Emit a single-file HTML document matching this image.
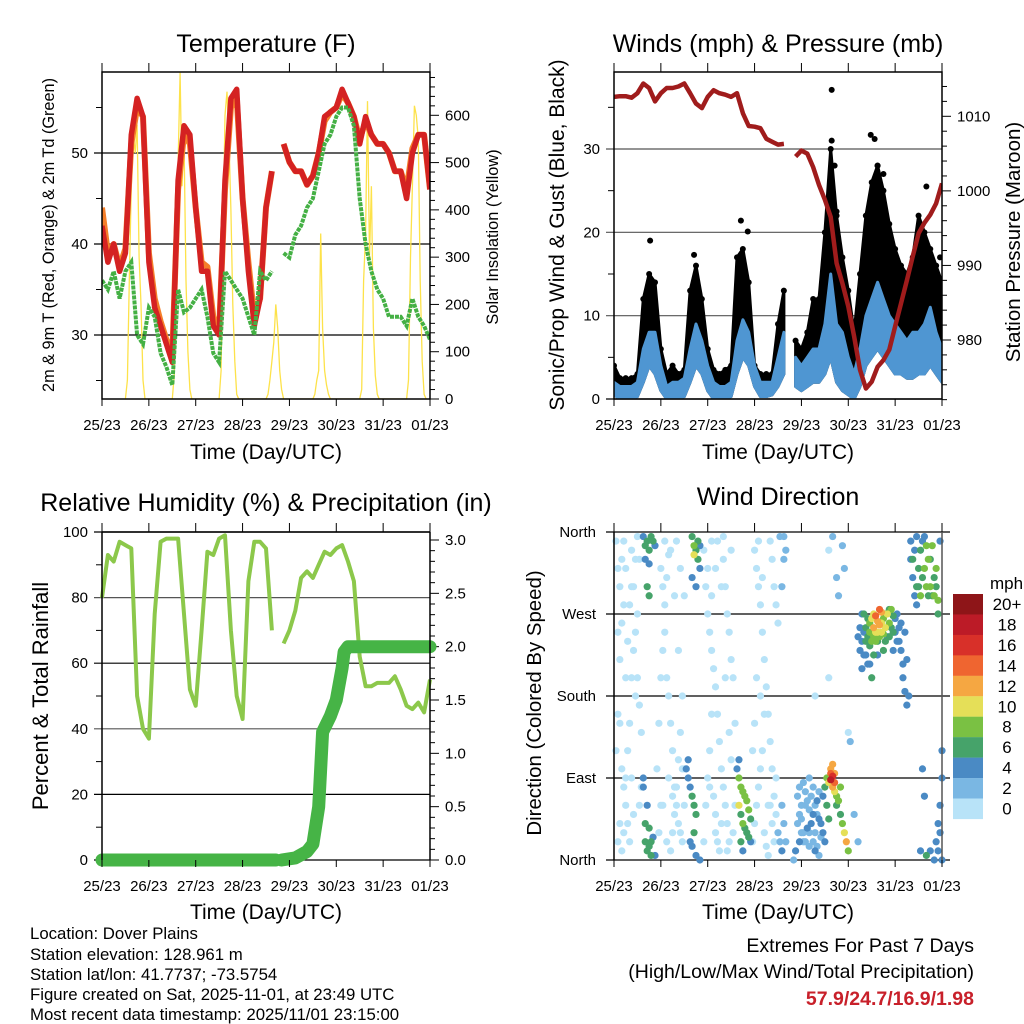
<!DOCTYPE html>
<html><head><meta charset="utf-8"><style>
body{margin:0;background:#fff}
svg{display:block;font-family:"Liberation Sans",sans-serif}
</style></head><body>
<svg id="s" width="1024" height="1024" viewBox="0 0 1024 1024">
<g id="g"></g>
<g font-size="25" text-anchor="middle">
<text x="266" y="52">Temperature (F)</text>
<text x="778" y="52">Winds (mph) &amp; Pressure (mb)</text>
<text x="266" y="511">Relative Humidity (%) &amp; Precipitation (in)</text>
<text x="778" y="505">Wind Direction</text>
</g>
<g font-size="21" text-anchor="middle">
<text x="266" y="459">Time (Day/UTC)</text>
<text x="778" y="459">Time (Day/UTC)</text>
<text x="266" y="919">Time (Day/UTC)</text>
<text x="778" y="919">Time (Day/UTC)</text>
</g>
<text transform="translate(54,235) rotate(-90)" font-size="16.3" text-anchor="middle">2m &amp; 9m T (Red, Orange) &amp; 2m Td (Green)</text>
<text transform="translate(498,237) rotate(-90)" font-size="16.4" text-anchor="middle">Solar Insolation (Yellow)</text>
<text transform="translate(564,235) rotate(-90)" font-size="21" text-anchor="middle">Sonic/Prop Wind &amp; Gust (Blue, Black)</text>
<text transform="translate(1020,242) rotate(-90)" font-size="20.5" text-anchor="middle">Station Pressure (Maroon)</text>
<text transform="translate(48,696) rotate(-90)" font-size="22" text-anchor="middle">Percent &amp; Total Rainfall</text>
<text transform="translate(541,703) rotate(-90)" font-size="20.4" text-anchor="middle">Direction (Colored By Speed)</text>
<g font-size="16.8">
<text x="30" y="939">Location: Dover Plains</text>
<text x="30" y="960">Station elevation: 128.961 m</text>
<text x="30" y="980">Station lat/lon: 41.7737; -73.5754</text>
<text x="30" y="1000">Figure created on Sat, 2025-11-01, at 23:49 UTC</text>
<text x="30" y="1020">Most recent data timestamp: 2025/11/01 23:15:00</text>
</g>
<g font-size="19.5" text-anchor="end">
<text x="974" y="952">Extremes For Past 7 Days</text>
<text x="974" y="978">(High/Low/Max Wind/Total Precipitation)</text>
<text x="974" y="1005" fill="#c8202a" font-weight="bold">57.9/24.7/16.9/1.98</text>
</g>
</svg>
<script>
var dayLabels=["25/23","26/23","27/23","28/23","29/23","30/23","31/23","01/23"];
var tHours=[0,3,6,9,12,15,18,21,24,27,30,33,36,39,42,45,48,51,54,57,60,63,66,69,72,75,78,81,84,87,90,93,96,99,102,105,108,111,114,117,120,123,126,129,132,135,138,141,144,147,150,153,156,159,162,165,168];
var tempRed=[42,38,40,37,39,52,56,54,38,33,31,29,27,47,53,52,44,37,37,31,30,47,56,57,45,37,31,34,44,48,null,51,49,48,48,46.5,47.5,50,54,54.5,55,57,55.5,54,51,54,52,51,51,50,48,48,45,50,52,52,46];
var tempOrange=[44,39,40,37.5,39.5,51,55,54,39,34,31.5,29.5,28,46,52,51,44,38,37.5,32,30.5,46,55,56,45,38,32,34,44,48,null,51,49,48,48,46.5,47.5,50,53.5,54.5,55,56.5,55.5,54,51.5,53.5,52,51,51,50,48,48,46,50.5,52,52,46];
var dewGreen=[36,35,37,34,37,38,30,29,33,32,28,26.5,24.5,35,32.5,33,34,35,32,28,27,37,36,35,34,32,30,37,36,37,null,39,38.5,41,42,44,45,48,51,52,54,55,55,53,45,40,37,35,34,32,32,32,31,34,32,31,29.5];
var solarDays=[
[0,40,250,450,560,520,580,300,200,40,0],
[0,50,300,500,690,450,550,250,100,20,0],
[0,60,350,600,650,550,400,200,80,10,0],
[0,10,40,80,120,200,150,60,20,0,0],
[0,10,40,60,350,150,60,30,10,0,0],
[0,20,250,350,630,300,450,150,50,10,0],
[0,40,300,450,620,600,550,250,80,10,0]];
var pressure=[1012.6,1012.7,1012.7,1012.5,1013.1,1014.4,1013.8,1012,1013.1,1013.8,1013.8,1014,1014.4,1013.1,1011.7,1011.1,1012.6,1013.5,1013.1,1012.9,1012.6,1013.1,1010.4,1008.7,1008.6,1008.4,1007,1006.6,1006.2,1006.3,null,1004.6,1005.4,1005,1003.2,1000.8,998.8,996.5,990.3,987.6,984.5,980.5,976,973.5,974.4,976.4,977.3,978.7,981.8,984.9,988,991.2,994.3,995.7,996.8,998.3,1001];
var windHigh=[2,1.5,1.5,1.5,2,6,8,8,4,1.5,2,2,2.5,6,9,7,4,2,1.5,1.5,2,7,9.5,8,4,2,2,2,5,8,null,5,4,5,6,6,9,15,9,8,5,3,6,10,12,14,12,10,9,8,7,8,8,9,11,8,6];
var windLow=[0.5,0,0,0,0.3,2,4,3,1,0,0,0,0.3,2,4,3,1,0,0,0,0.3,3,5,4,1.5,0.3,0.3,0.5,1.5,3,null,1.5,1,1.5,2,2,3,5,2,1,0.5,0,1.5,4,5,6,5,4,3,3,2.5,2.5,3,3,4,3,2];
var gust=[4,2.5,2.5,2.5,3,12,15,14,6,3,4,3,3.5,13,16,12,6,3.5,3,3.5,4,17,18,14,4,3,3,3,9,13,null,7,6,8,12,12,20,30,22,17,13,8,15,22,26,28,25,21,18,16,15,17,22,20,18,16,14];
var gustOutliers=[[18.5,19],[41,17.3],[65,21.4],[68.5,20.1],[111.5,37.1],[111.5,31],[113,28],[114,22.5],[131.5,31.7],[133.5,31.2],[135,28],[138,27],[160,25.5],[167,17]];
var rh=[80,93,91,97,96,95,50,40,37,75,97,98,98,98,75,52,47,70,94,93,98,99,70,50,43,85,97,97,95,70,null,66,70,76,86,88,86,90,94,93,95,96,91,85,62,53,53,54,54,54,56,52,47,46,48,45,55];
var precipHours=[0,89,null,92,99,105,108,111,113,117,120,123,124,126,168];
var precipVals=[0,0,null,0,0.02,0.08,0.15,0.5,1.2,1.35,1.5,1.8,1.95,2.0,2.0];
var dirPoints=[[15,355,5],[16,345,6],[17,350,7],[18,340,6],[19,355,6],[20,350,7],[21,345,4],[16,330,5],[18,325,4],[17,300,6],[18,290,7],[16,20,6],[17,10,7],[18,15,6],[19,5,7],[20,25,5],[15,80,4],[15,90,5],[16,40,6],[18,35,7],[19,20,6],[17,60,4],[21,5,4],
[40,355,7],[41,345,8],[42,340,6],[43,330,7],[44,320,5],[41,335,10],[43,350,6],[40,310,4],[42,300,4],[44,345,4],[37,100,4],[38,90,4],[39,80,5],[40,70,6],[41,60,6],[42,50,6],[41,30,7],[40,15,5],[39,20,4],[38,110,4],[42,5,4],[44,0,4],
[64,90,8],[65,80,8],[66,75,9],[67,70,8],[68,65,9],[64,60,10],[65,50,6],[66,40,8],[67,35,6],[68,30,7],[69,25,6],[70,20,4],[65,20,6],[66,10,4],[63,100,4],[64,110,4],[69,55,8],[70,45,7],
[94,40,2],[95,50,3],[96,45,2],[97,30,3],[98,60,3],[99,35,4],[100,55,3],[101,40,4],[102,50,4],[103,30,3],[104,65,4],[105,45,4],[106,25,3],[107,70,5],[108,80,6],[97,20,3],[100,15,3],[103,10,4],[105,5,3],[92,0,2],[93,10,4],[95,20,4],[109,90,8],[110,85,10],[111,95,14],[111,88,18],[112,92,16],[112,80,12],[113,75,10],[113,95,12],[114,70,8],[115,65,9],[116,80,8],[116,50,6],[117,40,8],[118,30,10],[119,20,13],[120,10,9],[109,60,6],[110,45,6],[111,100,12],[112,105,13],[113,85,14],[114,60,6],
[126,230,4],[127,240,5],[128,250,5],[129,255,6],[130,245,6],[131,260,8],[132,265,10],[133,270,11],[134,268,14],[135,262,13],[136,258,12],[137,250,10],[138,265,9],[139,255,11],[140,270,10],[141,260,9],[142,275,8],[143,250,6],[144,265,5],[145,240,4],[146,255,5],[147,230,4],[148,200,4],[149,185,4],[150,170,4],[131,235,6],[133,245,8],[135,240,6],[137,272,12],[139,240,7],[130,215,4],[128,225,5],[132,200,6],[141,245,6],[143,268,7],[136,275,14],[134,250,10],[138,248,8],[127,270,4],[145,270,4],
[152,330,4],[153,310,4],[154,290,5],[155,300,6],[156,320,7],[157,340,6],[158,350,5],[159,355,4],[160,345,8],[161,330,8],[162,300,8],[163,290,7],[164,310,6],[165,320,8],[166,285,8],[167,350,4],[168,0,4],[162,10,5],[165,20,4],[167,60,4],[168,90,4],[166,40,4],[160,5,6],[155,280,4],
[1,350,1],[2,320,1],[3,300,0],[4,330,1],[5,280,1],[6,200,0],[2,160,1],[3,150,0],[1,120,1],[4,100,0],[5,80,1],[6,60,0],[7,40,1],[8,20,0],[9,90,1],[10,50,1],[11,180,0],[12,270,1],[13,330,1],[9,340,1],[10,300,0],[7,240,1],[24,320,1],[25,300,1],[26,250,0],[27,200,1],[28,180,1],[29,150,0],[30,120,1],[31,80,1],[32,60,0],[33,40,1],[34,30,1],[35,20,0],[26,350,1],[29,340,1],[31,290,1],[33,230,1],[35,180,0],[36,100,1],[25,60,1],[28,90,1],[47,300,1],[48,270,0],[49,250,1],[50,230,1],[51,210,0],[52,190,1],[53,160,1],[54,130,1],[55,100,0],[56,80,1],[57,60,1],[58,40,1],[59,20,0],[60,340,1],[50,350,1],[52,320,1],[55,300,1],[57,200,0],[59,140,1],[60,110,1],[49,80,1],[52,30,1],[72,340,1],[73,320,1],[74,300,0],[75,280,1],[76,250,1],[77,220,0],[78,190,1],[79,160,1],[80,130,0],[81,100,1],[82,70,1],[83,50,0],[84,30,2],[85,20,3],[86,10,4],[87,355,3],[88,340,2],[74,350,1],[76,310,1],[79,60,1],[83,90,1],[85,355,2],[71,120,1],[72,150,1],[110,340,1],[112,355,2],[114,310,3],[115,290,2],[117,345,2],[118,320,2],[103,180,1],[110,200,1],[120,140,1],[121,130,2],[123,50,2],[125,20,2],
[2,20,1],[3,40,0],[4,10,1],[5,30,0],[6,90,1],[7,120,0],[8,150,1],[9,200,0],[10,230,1],[11,250,1],[12,200,0],[13,170,1],[14,140,0],[2,250,1],[3,220,0],[4,260,1],[5,350,0],[6,320,1],[8,280,0],[9,300,1],[11,330,1],[12,355,0],[13,60,1],[14,80,1],[22,100,0],[23,150,1],[24,200,0],[25,230,1],[26,280,1],[27,310,0],[28,335,1],[29,10,1],[30,30,0],[31,50,1],[32,80,1],[33,110,0],[34,140,1],[35,100,1],[36,60,0],[23,30,1],[24,60,1],[27,20,0],[30,70,1],[32,350,1],[34,320,0],[36,290,1],[46,20,1],[47,60,0],[48,90,1],[49,120,1],[50,160,0],[51,70,1],[52,50,1],[53,20,0],[54,10,1],[55,40,1],[56,330,0],[57,300,1],[58,270,1],[59,250,0],[60,220,1],[61,200,1],[62,150,0],[46,340,1],[48,320,1],[50,290,0],[53,350,1],[56,355,1],[58,10,0],[61,30,1],[62,60,1],[71,20,1],[72,40,0],[73,60,1],[74,80,1],[75,100,0],[76,120,1],[77,30,1],[78,15,0],[79,5,1],[80,350,1],[81,330,0],[82,300,1],[83,280,1],[84,260,0],[80,60,1],[81,40,1],[82,20,0],[73,200,1],[75,180,1],[77,160,0],[86,60,2],[87,40,2],[88,20,3],[86,300,2],[87,330,2],[94,70,2],[95,80,3],[96,60,3],[97,85,2],[98,75,3],[99,65,2],[100,90,3],[101,70,2],[102,80,3],[103,60,2],[104,50,3],[105,75,3],[96,30,3],[98,20,2],[100,30,3],[102,20,2],[104,15,3],[106,40,4],[107,30,4],[108,20,5],
[125,245,4],[126,255,4],[128,270,6],[129,240,7],[130,265,7],[131,250,9],[132,240,9],[133,255,12],[134,240,9],[135,250,11],[136,245,8],[137,260,10],[138,230,6],[139,270,8],[140,245,5],[141,275,7],[142,255,6],[143,230,5],[144,250,4],[146,240,4],[147,260,5],[148,215,4],[149,250,4],[150,220,4],[151,180,4],[129,225,4],[131,215,5],[133,225,6],[135,225,5],[127,210,4],
[152,350,4],[154,340,5],[156,300,7],[157,290,8],[158,310,7],[159,320,8],[160,300,9],[161,290,7],[162,330,6],[163,345,8],[164,290,8],[165,300,6],[166,270,7],[153,330,6],[155,355,5],[157,10,4],[164,0,4],[166,10,4],[167,30,4],[168,120,4],[158,100,4],[159,70,4]];
var speedColors=["#b8e3f8","#7ab7e3","#4a8ac4","#46a36a","#7ac143","#e5df58","#f5a742","#ef6530","#d83029","#bc1b27","#8e1518"];
var legendLabels=["0","2","4","6","8","10","12","14","16","18","20+"];
var dirLabels=["North","East","South","West","North"];

var NS="http://www.w3.org/2000/svg",G=document.getElementById('g');
function mk(t,a,p){var e=document.createElementNS(NS,t);for(var k in a)e.setAttribute(k,a[k]);(p||G).appendChild(e);return e;}
function X0(h){return 102+h*328/168;}
function X1(h){return 614+h*328/168;}
function lin(d0,d1,r0,r1){return function(v){return r0+(v-d0)*(r1-r0)/(d1-d0);};}
var yT=lin(30,50,335,153),yS=lin(0,600,399,115.3),yW=lin(0,30,399,149),yP=lin(980,1010,340,116.3),yR=lin(0,100,860,532),yPr=lin(0,3,860,540),yD=lin(0,360,860,532);
function pathOf(xs,ys,fx,fy){var d="",pen=false;for(var i=0;i<xs.length;i++){if(ys[i]==null||xs[i]==null){pen=false;continue;}d+=(pen?"L":"M")+fx(xs[i]).toFixed(1)+","+fy(ys[i]).toFixed(1);pen=true;}return d;}
function frame(x0,y0,x1,y1,name){var f=mk('rect',{x:x0,y:y0,width:x1-x0,height:y1-y0,fill:'none',stroke:'#000','stroke-width':1.5});}
function xAxis(fx,yb,yt){for(var i=0;i<8;i++){var x=fx(i*24);mk('line',{x1:x,x2:x,y1:yb,y2:yb+7,stroke:'#000'});mk('line',{x1:x,x2:x,y1:yt,y2:yt-9,stroke:'#000'});var t=mk('text',{x:x,y:yb+31,'font-size':15,'text-anchor':'middle'});t.textContent=dayLabels[i];}}
function grid(x0,x1,y,c){mk('line',{x1:x0-8,x2:x1,y1:y,y2:y,stroke:c||'#000','stroke-width':1.2});}
function lTick(x0,y,txt){var t=mk('text',{x:x0-14,y:y+5,'font-size':15,'text-anchor':'end'});t.textContent=txt;}
function rTick(x1,y,txt,minor){mk('line',{x1:x1,x2:x1+(minor?5:9),y1:y,y2:y,stroke:'#000'});if(txt!=null){var t=mk('text',{x:x1+15,y:y+5,'font-size':15});t.textContent=txt;}}
function clip(id,x,y,w,h){var c=mk('clipPath',{id:id});mk('rect',{x:x,y:y,width:w,height:h},c);}

// ---- Temperature panel ----
clip('c1',102,72,328,327);
var v;
for(v=30;v<=50;v+=10){grid(102,430,yT(v));lTick(102,yT(v),v);}
for(v=25;v<=55;v+=10)mk('line',{x1:96,x2:102,y1:yT(v),y2:yT(v),stroke:'#000'});
for(v=0;v<=680;v+=20){var yy=yS(v);if(yy<72)break;rTick(430,yy,v%100==0?v:null,v%100!=0);}
var sg=mk('g',{'clip-path':'url(#c1)'});
var sh=[],sv=[];for(var d=0;d<solarDays.length;d++){for(var j=0;j<solarDays[d].length;j++){sh.push(d*24+12+j);sv.push(solarDays[d][j]);}}
var e=mk('path',{d:pathOf(sh,sv,X0,yS),fill:'none',stroke:'#fde24a','stroke-width':1.3},sg);


e=mk('path',{d:pathOf(tHours,tempOrange,X0,yT),fill:'none',stroke:'#f57f2a','stroke-width':6,'stroke-linejoin':'round'},sg);


e=mk('path',{d:pathOf(tHours,tempRed,X0,yT),fill:'none',stroke:'#d42222','stroke-width':5.5,'stroke-linejoin':'round'},sg);


e=mk('path',{d:pathOf(tHours,dewGreen,X0,yT),fill:'none',stroke:'#44b044','stroke-width':4,'stroke-dasharray':'4 1'},sg);


frame(102,72,430,399,'temperature-plot-frame');xAxis(X0,399,72);

// ---- Wind panel ----
clip('c2',614,72,328,327);
for(v=0;v<=30;v+=10){grid(614,942,yW(v),v==0?'#000':'#555');lTick(614,yW(v),v);}
for(v=5;v<=35;v+=10)mk('line',{x1:608,x2:614,y1:yW(v),y2:yW(v),stroke:'#000'});
for(v=972;v<=1015;v+=2){rTick(942,yP(v),v%10==0?v:null,v%10!=0);}
var wg=mk('g',{'clip-path':'url(#c2)'});
function band(lo,hi,fill,name){var segs=[],cur=[];for(var i=0;i<tHours.length;i++){if(hi[i]==null){if(cur.length)segs.push(cur);cur=[];}else cur.push(i);}if(cur.length)segs.push(cur);
segs.forEach(function(s){var d="";s.forEach(function(i,k){d+=(k?"L":"M")+X1(tHours[i]).toFixed(1)+","+yW(hi[i]).toFixed(1);});for(var k=s.length-1;k>=0;k--){var i=s[k];d+="L"+X1(tHours[i]).toFixed(1)+","+yW(lo[i]).toFixed(1);}d+="Z";var p=mk('path',{d:d,fill:fill,stroke:fill,'stroke-width':3,'stroke-linejoin':'round'},wg);});}
band(windLow,gust,'#000','gust-cloud');
for(var i=0;i<tHours.length;i++){if(gust[i]==null)continue;var c=mk('circle',{cx:X1(tHours[i]),cy:yW(gust[i]),r:3,fill:'#000'},wg);}
gustOutliers.forEach(function(p){var c=mk('circle',{cx:X1(p[0]),cy:yW(p[1]),r:3,fill:'#000'},wg);});
band(windLow,windHigh,'#4f96d2','wind-speed-band');
e=mk('path',{d:pathOf(tHours,pressure,X1,yP),fill:'none',stroke:'#a01c1c','stroke-width':4.5,'stroke-linejoin':'round'},wg);


frame(614,72,942,399,'wind-plot-frame');xAxis(X1,399,72);

// ---- RH panel ----
clip('c3',90,520,352,352);
for(v=0;v<=100;v+=20){grid(102,430,yR(v),(v==80||v==40)?'#555':'#000');lTick(102,yR(v),v);}
for(v=10;v<=90;v+=20)mk('line',{x1:96,x2:102,y1:yR(v),y2:yR(v),stroke:'#000'});
for(v=0;v<=30;v+=1){rTick(430,yPr(v/10),v%5==0?(v/10).toFixed(1):null,v%5!=0);}
var rg=mk('g',{'clip-path':'url(#c3)'});
e=mk('path',{d:pathOf(tHours,rh,X0,yR),fill:'none',stroke:'#8cc84b','stroke-width':4,'stroke-linejoin':'round'},rg);


e=mk('path',{d:pathOf(precipHours,precipVals,X0,yPr),fill:'none',stroke:'#46b446','stroke-width':13,'stroke-linejoin':'round','stroke-linecap':'round'},rg);


mk('line',{x1:102,x2:102,y1:532,y2:860,stroke:'#000','stroke-width':1.5});
mk('line',{x1:430,x2:430,y1:532,y2:860,stroke:'#000','stroke-width':1.5});
mk('line',{x1:102,x2:430,y1:532,y2:532,stroke:'#000','stroke-width':1.5});
xAxis(X0,860,532);

// ---- Direction panel ----
clip('c4',610,528,336,336);
for(var k=0;k<5;k++){var y=yD(k*90);grid(614,950,y);var t=mk('text',{x:596,y:y+5,'font-size':15,'text-anchor':'end'});t.textContent=dirLabels[k];}
var dg=mk('g',{'clip-path':'url(#c4)'});
var sorted=dirPoints.slice().sort(function(a,b){return a[2]-b[2];});
sorted.forEach(function(p){var idx=Math.min(10,Math.floor(p[2]/2));var c=mk('circle',{cx:X1(p[0]),cy:yD(p[1]),r:3.6,fill:speedColors[idx]},dg);});
mk('line',{x1:614,x2:614,y1:532,y2:860,stroke:'#000','stroke-width':1.5});
mk('line',{x1:942,x2:942,y1:532,y2:860,stroke:'#555','stroke-width':1.5});
xAxis(X1,860,532);
// legend
var lt=mk('text',{x:990,y:589,'font-size':17});lt.textContent='mph';


for(var b=0;b<11;b++){var idx=10-b,y0=594+b*20.45;
var r=mk('rect',{x:953,y:y0,width:30,height:20.6,fill:speedColors[idx]});


var t=mk('text',{x:1007,y:y0+16,'font-size':17,'text-anchor':'middle'});t.textContent=legendLabels[idx];

}
</script>
</body></html>
